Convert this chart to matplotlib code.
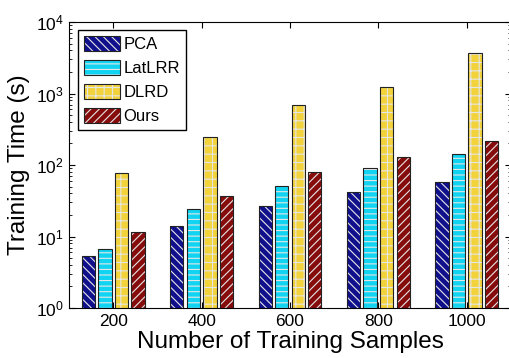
import matplotlib
matplotlib.use('Agg')
import matplotlib.pyplot as plt
import numpy as np

# data
samples = ['200', '400', '600', '800', '1000']
pca = [5.3, 14, 27, 42, 58]
latlrr = [6.7, 24, 51, 91, 142]
dlrd = [77, 246, 690, 1240, 3700]
ours = [11.5, 37, 80, 129, 216]

methods = ['PCA', 'LatLRR', 'DLRD', 'Ours']
series = [pca, latlrr, dlrd, ours]
colors = ['#10108c', '#10d4f2', '#f2d33c', '#860c0c']
hatches = ['\\\\\\\\', '---', '++', '////']

plt.rcParams['font.family'] = ['Liberation Sans', 'DejaVu Sans']
plt.rcParams['hatch.color'] = '#e6e6e6'
plt.rcParams['hatch.linewidth'] = 0.8
plt.rcParams['mathtext.fontset'] = 'custom'
plt.rcParams['mathtext.rm'] = 'Liberation Sans'

fig = plt.figure(figsize=(5.09, 3.58), dpi=100)
ax = fig.add_axes([69 / 509, 50 / 358, 442 / 509, 286 / 358])

x = np.arange(1, len(samples) + 1)
width = 0.15
step = 0.1875

handles = []
for i, (vals, col, hat) in enumerate(zip(series, colors, hatches)):
    pos = x + (i - 1.5) * step
    filled = ax.bar(pos, vals, width, color=col, hatch=hat, linewidth=0)
    outline = ax.bar(pos, vals, width, fill=False, edgecolor='#222222', linewidth=0.8)
    handles.append((filled[0], outline[0]))

ax.set_yscale('log')
ax.set_ylim(1, 1e4)
ax.set_xlim(0.5, 5.5)
ax.set_xticks(x)
ax.set_xticklabels(samples)

ax.tick_params(which='both', direction='in', top=True, right=True, labelsize=12.5)
ax.tick_params(axis='x', which='minor', top=False, bottom=False)
ax.tick_params(which='major', length=4, pad=4)
ax.tick_params(which='minor', length=2)

ax.set_xlabel('Number of Training Samples', fontsize=17.5, labelpad=2)
ax.set_ylabel('Training Time (s)', fontsize=17.5, labelpad=4)

ax.legend(handles, methods, loc='upper left', bbox_to_anchor=(0.020, 0.972),
          fontsize=12, handlelength=2.15, handleheight=1.05, labelspacing=0.45,
          handletextpad=0.25, borderpad=0.35, borderaxespad=0, fancybox=False,
          framealpha=1, edgecolor='black')

fig.savefig('out.png', dpi=100)
